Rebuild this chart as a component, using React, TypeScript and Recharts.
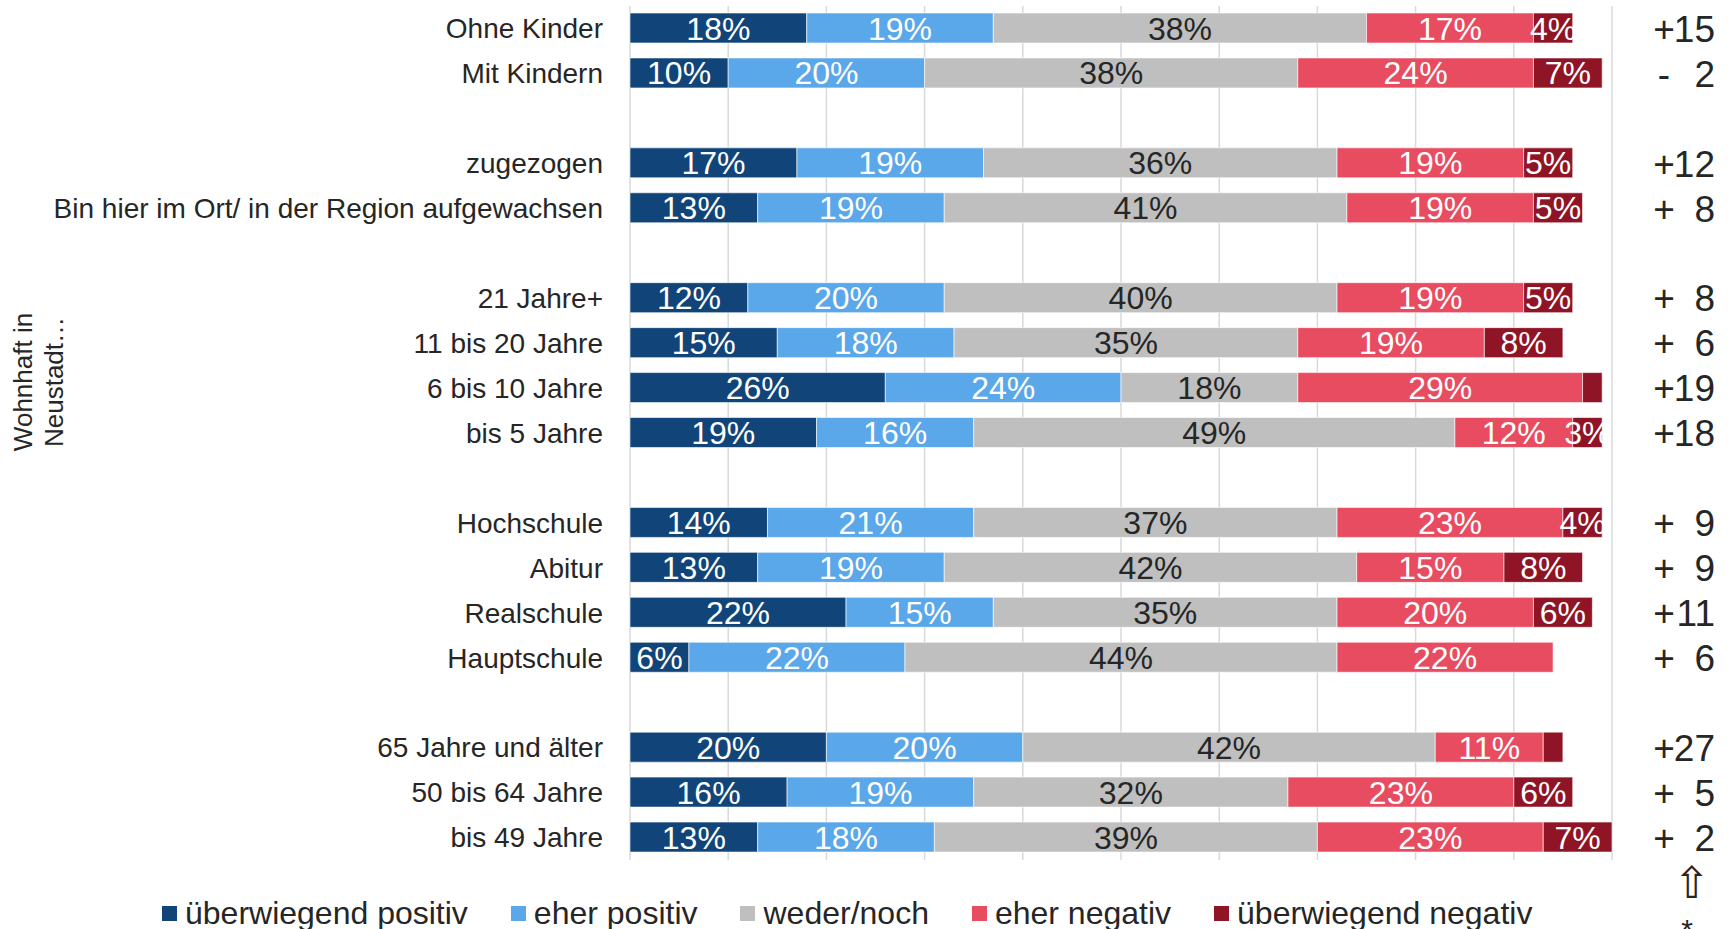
import React from 'react';
import { BarChart, Bar, XAxis, YAxis, CartesianGrid, LabelList, Legend } from 'recharts';

// Zeilen von oben nach unten, leere Strings = Abstandszeilen
const categories = [
  'Ohne Kinder', 'Mit Kindern', '',
  'zugezogen', 'Bin hier im Ort/ in der Region aufgewachsen', '',
  '21 Jahre+', '11 bis 20 Jahre', '6 bis 10 Jahre', 'bis 5 Jahre', '',
  'Hochschule', 'Abitur', 'Realschule', 'Hauptschule', '',
  '65 Jahre und älter', '50 bis 64 Jahre', 'bis 49 Jahre',
];

const stronglyPositive = [18, 10, null, 17, 13, null, 12, 15, 26, 19, null, 14, 13, 22, 6, null, 20, 16, 13];
const ratherPositive = [19, 20, null, 19, 19, null, 20, 18, 24, 16, null, 21, 19, 15, 22, null, 20, 19, 18];
const neither = [38, 38, null, 36, 41, null, 40, 35, 18, 49, null, 37, 42, 35, 44, null, 42, 32, 39];
const ratherNegative = [17, 24, null, 19, 19, null, 19, 19, 29, 12, null, 23, 15, 20, 22, null, 11, 23, 23];
const stronglyNegative = [4, 7, null, 5, 5, null, 5, 8, 2, 3, null, 4, 8, 6, 0, null, 2, 6, 7];

const netScores = ['+15', '- 2', '', '+12', '+ 8', '', '+ 8', '+ 6', '+19', '+18', '', '+ 9', '+ 9', '+11', '+ 6', '', '+27', '+ 5', '+ 2'];

const xTicks = [0, 10, 20, 30, 40, 50, 60, 70, 80, 90, 100];

const series = [
  { key: 'sp', name: 'überwiegend positiv', color: '#11457A', text: '#ffffff' },
  { key: 'rp', name: 'eher positiv', color: '#5AA7EA', text: '#ffffff' },
  { key: 'ne', name: 'weder/noch', color: '#BFBFBF', text: '#262626' },
  { key: 'rn', name: 'eher negativ', color: '#E84C60', text: '#ffffff' },
  { key: 'sn', name: 'überwiegend negativ', color: '#8F1526', text: '#ffffff' },
];

const rows = categories.map((name, i) => ({
  id: `r${i}`,
  name,
  sp: stronglyPositive[i],
  rp: ratherPositive[i],
  ne: neither[i],
  rn: ratherNegative[i],
  sn: stronglyNegative[i],
  net: netScores[i],
}));

const FONT = '"Liberation Sans", Arial, sans-serif';
const TEXT = '#262626';

const rowById = (id: string) => rows.find(r => r.id === id);

const CategoryTick = (props: any) => {
  const { x, y, payload } = props;
  const row = rowById(payload.value);
  if (!row || !row.name) return null;
  return (
    <text x={x} y={y} dy="0.35em" textAnchor="end" fontSize={28} fontFamily={FONT} fill={TEXT}>
      {row.name}
    </text>
  );
};

const NetTick = (props: any) => {
  const { x, y, payload } = props;
  const row = rowById(payload.value);
  if (!row || !row.net) return null;
  const sign = row.net[0];
  const num = row.net.slice(1).trim();
  return (
    <g fontSize={37} fontFamily={FONT} fill={TEXT}>
      <text x={x + 11} y={y} dy="0.36em" textAnchor="middle">{sign}</text>
      <text x={x + 62} y={y} dy="0.36em" textAnchor="end">{num}</text>
    </g>
  );
};

const makeLabel = (color: string) => (props: any) => {
  const { x, y, width, height, value } = props;
  if (value == null || value < 3) return null;
  return (
    <text
      x={x + width / 2}
      y={y + height / 2}
      dy="0.36em"
      textAnchor="middle"
      fontSize={32}
      fontFamily={FONT}
      fill={color}
    >
      {`${value}%`}
    </text>
  );
};

const AxisTitle = () => (
  <g fontSize={26} fontFamily={FONT} fill={TEXT} textAnchor="middle">
    <text transform="translate(32,382) rotate(-90)">Wohnhaft in</text>
    <text transform="translate(63,382) rotate(-90)">Neustadt…</text>
  </g>
);

const ArrowNote = () => (
  <g fill={TEXT}>
    <text x={1692} y={898} textAnchor="middle" fontSize={44} fontFamily='"DejaVu Sans", sans-serif'>⇧</text>
    <text x={1687} y={940} textAnchor="middle" fontSize={30} fontFamily={FONT}>*</text>
  </g>
);

const LegendContent = () => (
  <div style={{ display: 'flex', alignItems: 'center', fontFamily: FONT, fontSize: 32, lineHeight: '32px', color: TEXT, paddingLeft: 162 }}>
    {series.map(s => (
      <div key={s.key} style={{ display: 'flex', alignItems: 'center', marginRight: 43 }}>
        <span style={{ display: 'inline-block', width: 15, height: 15, background: s.color, marginRight: 8 }} />
        <span style={{ whiteSpace: 'nowrap' }}>{s.name}</span>
      </div>
    ))}
  </div>
);

export default function App() {
  return (
    <div style={{ position: 'absolute', left: 0, top: 0, background: '#fff' }}>
      <BarChart
        width={1729}
        height={929}
        data={rows}
        layout="vertical"
        margin={{ top: 6, right: 0, bottom: 69, left: 0 }}
        barSize={30}
      >
        <CartesianGrid horizontal={false} stroke="#D9D9D9" strokeWidth={1.5} />
        <XAxis type="number" domain={[0, 100]} ticks={xTicks} hide />
        <YAxis
          yAxisId="left"
          type="category"
          dataKey="id"
          width={630}
          axisLine={false}
          tickLine={false}
          tickSize={0}
          tickMargin={27}
          interval={0}
          tick={<CategoryTick />}
          label={{ content: () => <AxisTitle /> }}
        />
        <YAxis
          yAxisId="right"
          orientation="right"
          type="category"
          dataKey="id"
          width={117}
          axisLine={false}
          tickLine={false}
          tickSize={0}
          tickMargin={41}
          interval={0}
          tick={<NetTick />}
          label={{ content: () => <ArrowNote /> }}
        />
        <Legend
          layout="horizontal"
          verticalAlign="middle"
          align="center"
          wrapperStyle={{ top: 897, left: 0, width: 1729 }}
          content={() => <LegendContent />}
        />
        {series.map(s => (
          <Bar
            key={s.key}
            dataKey={s.key}
            name={s.name}
            stackId="a"
            yAxisId="left"
            fill={s.color}
            stroke="#ffffff"
            strokeWidth={0.6}
            isAnimationActive={false}
          >
            <LabelList dataKey={s.key} content={makeLabel(s.text)} />
          </Bar>
        ))}
      </BarChart>
    </div>
  );
}
